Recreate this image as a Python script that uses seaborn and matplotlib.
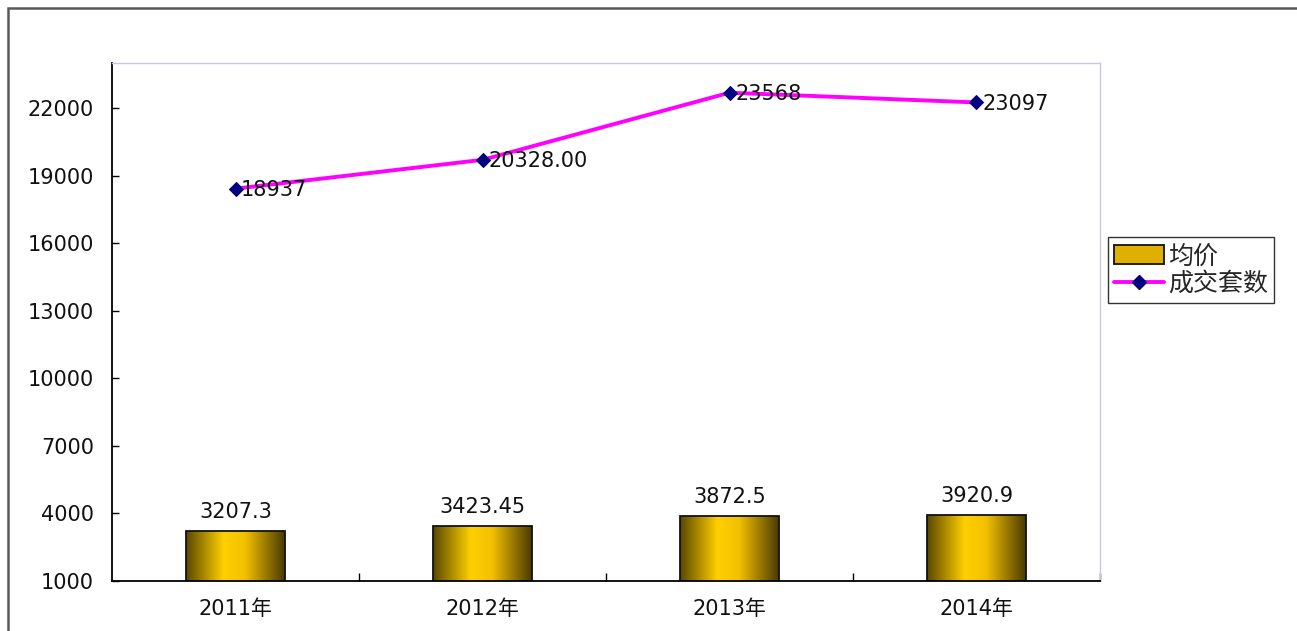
import numpy as np
import pandas as pd
import matplotlib
matplotlib.use("Agg")
import matplotlib.pyplot as plt
from matplotlib.colors import LinearSegmentedColormap
from matplotlib.lines import Line2D
from matplotlib.patches import Patch, Rectangle
import seaborn as sns

# ── Data ─────────────────────────────────────────────────────────────────────
years = ["2011年", "2012年", "2013年", "2014年"]
avg_price = [3207.3, 3423.45, 3872.5, 3920.9]
price_labels = ["3207.3", "3423.45", "3872.5", "3920.9"]
deals = [18937, 20328, 23568, 23097]
deal_labels = ["18937", "20328.00", "23568", "23097"]
y_ticks = [1000, 4000, 7000, 10000, 13000, 16000, 19000, 22000]

# ── Style ────────────────────────────────────────────────────────────────────
sns.set_theme(style="white")
plt.rcParams["font.family"] = ["DejaVu Sans", "Noto Sans CJK SC"]
TXT = "#111111"
FS = 15

fig = plt.figure(figsize=(12.97, 6.31), dpi=100)
ax = fig.add_axes([0.0864, 0.0792, 0.7617, 0.8209])
Y0, Y1 = 1000, 24000

df = pd.DataFrame({"year": years, "price": avg_price})
sns.barplot(data=df, x="year", y="price", width=0.4, color="#e8b800",
            saturation=1, edgecolor="#111111", linewidth=1.3, ax=ax)

# gold gradient inside each bar
gold = LinearSegmentedColormap.from_list(
    "gold", [(0, "#5a4800"), (0.38, "#ffd000"), (0.6, "#f2c000"), (1, "#4a3a00")])
grad = np.linspace(0, 1, 256).reshape(1, -1)
for bar in list(ax.patches):
    x0, w, h = bar.get_x(), bar.get_width(), bar.get_height()
    im = ax.imshow(grad, cmap=gold, aspect="auto",
                   extent=(x0, x0 + w, Y0, h), zorder=1.5)
    im.set_clip_path(bar)
    bar.set_facecolor("none")
    bar.set_zorder(2)

for i, (v, lab) in enumerate(zip(avg_price, price_labels)):
    ax.annotate(lab, (i, v), xytext=(0, 7), textcoords="offset points",
                ha="center", va="bottom", fontsize=FS, color=TXT)

ax.set_xlim(-0.5, 3.5)
ax.set_ylim(Y0, Y1)
ax.set_xlabel("")
ax.set_ylabel("")
ax.set_yticks(y_ticks)
ax.set_yticklabels([str(t) for t in y_ticks])
ax.tick_params(axis="y", direction="in", length=5, width=1, pad=13,
               labelsize=FS, colors="#000000", labelcolor=TXT, left=True)
ax.set_xticks([0.5, 1.5, 2.5, 3.5])
ax.set_xticklabels([])
ax.set_xticks(range(len(years)), minor=True)
ax.set_xticklabels(years, minor=True)
ax.tick_params(axis="x", which="major", direction="in", length=6, width=1,
               bottom=True, colors="#000000")
ax.tick_params(axis="x", which="minor", length=0, pad=13, labelsize=FS,
               labelcolor=TXT, bottom=True)
for s in ["left", "bottom"]:
    ax.spines[s].set_color("#000000")
    ax.spines[s].set_linewidth(1.3)
for s in ["top", "right"]:
    ax.spines[s].set_color("#c6c6ee")
    ax.spines[s].set_linewidth(1.0)

# ── Line on hidden secondary axis ────────────────────────────────────────────
ax2 = ax.twinx()
sns.lineplot(x=np.arange(len(deals)), y=deals, ax=ax2, color="#ff00ff",
             linewidth=2.8, marker="D", markersize=7, markerfacecolor="#000080",
             markeredgecolor="#000080")
ax2.set_ylim(0, 25000)
ax2.set_xlim(-0.5, 3.5)
ax2.set_yticks([])
ax2.set_ylabel("")
for s in ax2.spines.values():
    s.set_visible(False)
for i, (v, lab) in enumerate(zip(deals, deal_labels)):
    ax2.annotate(lab, (i, v), xytext=(4, -1), textcoords="offset points",
                 ha="left", va="center", fontsize=FS, color=TXT)

# ── Legend ───────────────────────────────────────────────────────────────────
handles = [
    Patch(facecolor="#e0b000", edgecolor="#111111", linewidth=1.3),
    Line2D([0], [0], color="#ff00ff", lw=2.8, marker="D", ms=7,
           mfc="#000080", mec="#000080"),
]
fig.legend(handles, ["均价", "成交套数"], loc="upper left",
           bbox_to_anchor=(1108 / 1297, 1 - 237 / 631), frameon=True,
           fancybox=False, edgecolor="#333333", framealpha=1,
           prop={"family": ["Noto Sans CJK SC"], "size": 18},
           handlelength=2.0, handleheight=0.75, handletextpad=0.15,
           borderpad=0.25, labelspacing=0.05, borderaxespad=0)

# outer chart frame
fig.add_artist(Rectangle((8 / 1297, -0.05), 1.2, 1 - 8 / 631 + 0.05,
                         transform=fig.transFigure, fill=False,
                         edgecolor="#5a5a5a", linewidth=1.8))

fig.savefig("out.png", dpi=100)
